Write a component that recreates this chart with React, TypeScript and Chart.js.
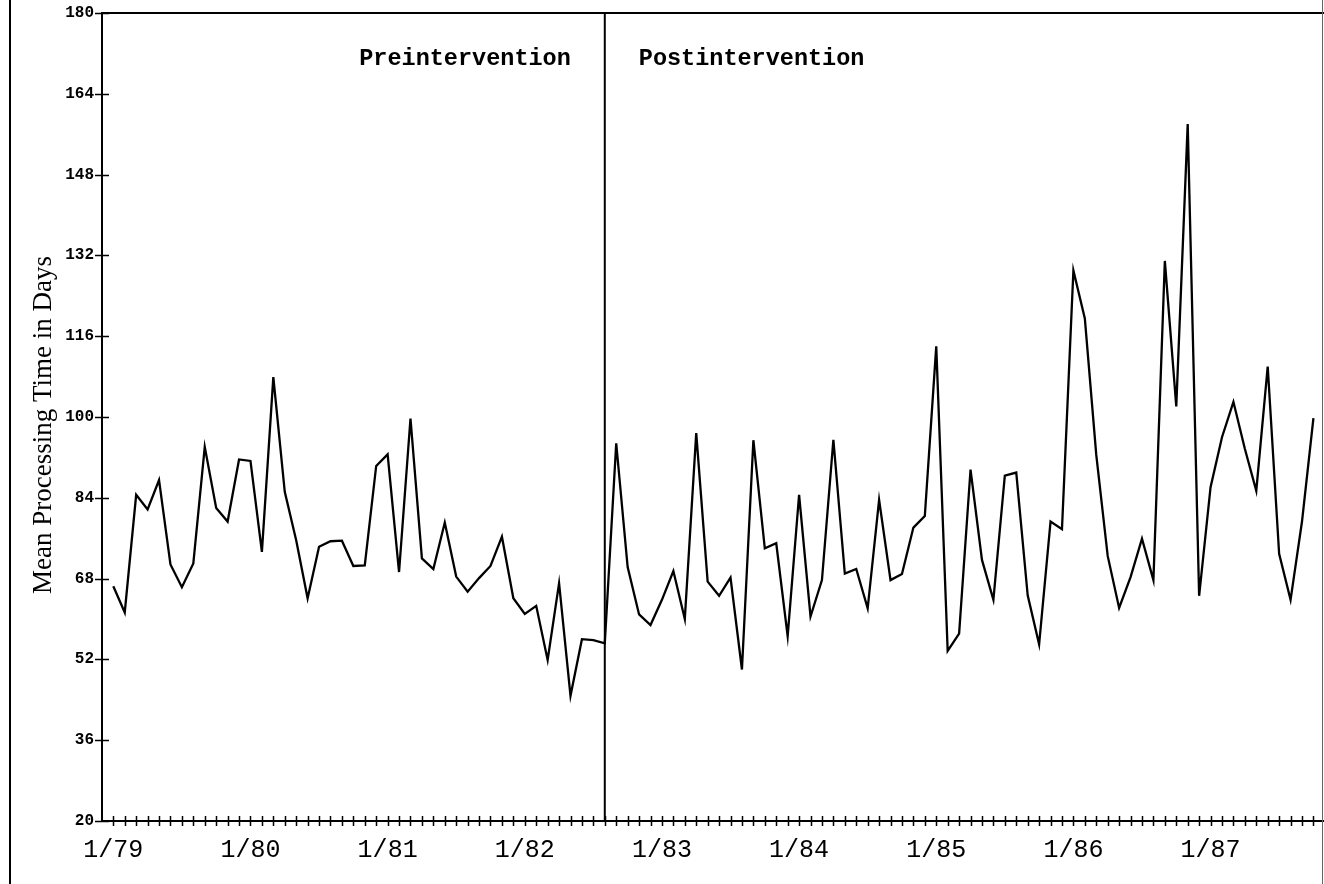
import React, { useEffect, useRef } from "react";
import { Chart, registerables } from "chart.js";

Chart.register(...registerables);

// Monthly mean processing time in days, 1/79 .. 10/87
const meanDays: number[] = [
  66.5, 61.3, 84.6, 81.7, 87.5, 70.8, 66.3, 71.0, 94.1, 82.0, 79.3, 91.6,
  91.3, 73.3, 107.9, 85.2, 75.6, 64.1, 74.3, 75.4, 75.5, 70.5, 70.6, 90.3,
  92.6, 69.3, 99.7, 72.0, 69.9, 79.1, 68.4, 65.4, 68.1, 70.5, 76.3, 64.1,
  61.0, 62.6, 51.9, 67.1, 44.8, 56.0, 55.8, 55.2, 94.8, 70.3, 60.9, 58.8,
  63.8, 69.5, 60.0, 96.8, 67.4, 64.6, 68.2, 50.0, 95.4, 74.0, 75.0, 56.6,
  84.6, 60.5, 67.7, 95.5, 69.0, 69.9, 62.1, 83.6, 67.7, 68.9, 78.1, 80.4,
  114.0, 53.7, 57.1, 89.6, 71.7, 63.8, 88.4, 89.0, 64.7, 55.0, 79.3, 77.8,
  129.0, 119.5, 92.5, 72.5, 62.2, 68.3, 75.9, 67.7, 130.9, 102.1, 158.0, 64.6,
  86.1, 96.0, 103.0, 93.7, 85.4, 110.0, 72.9, 63.8, 79.3, 99.8,
];

// January tick labels (every 12 months)
const yearLabels: string[] = ["1/79", "1/80", "1/81", "1/82", "1/83", "1/84", "1/85", "1/86", "1/87"];

const xMin = -0.99;
const xMax = 105.75;
const yTickMin = 20;
const yTickMax = 180;
const yTickStep = 16;

const interventionIndex = 43; // 8/82
const phaseLabels: string[] = ["Preintervention", "Postintervention"];
const yAxisTitle = "Mean Processing Time in Days";

const decorPlugin = {
  id: "decor",
  afterDraw(chart: any) {
    const { ctx, chartArea: a, scales } = chart;
    const x = scales.x;
    const y = scales.y;
    ctx.save();
    ctx.strokeStyle = "#000";
    ctx.lineWidth = 2;
    ctx.beginPath();
    ctx.moveTo(a.left, a.bottom);
    ctx.lineTo(a.left, a.top);
    ctx.lineTo(chart.width, a.top);
    ctx.moveTo(a.left, a.bottom);
    ctx.lineTo(chart.width, a.bottom);
    ctx.stroke();
    // right border (faint)
    ctx.lineWidth = 1;
    ctx.strokeStyle = "#666";
    ctx.beginPath();
    ctx.moveTo(a.right + 0.5, 0);
    ctx.lineTo(a.right + 0.5, chart.height);
    ctx.stroke();
    ctx.strokeStyle = "#000";
    // crossing tick marks
    ctx.lineWidth = 1.5;
    ctx.beginPath();
    x.ticks.forEach((t: any) => {
      const px = Math.round(x.getPixelForValue(t.value)) + 0.5;
      ctx.moveTo(px, a.bottom - 5);
      ctx.lineTo(px, a.bottom + 5);
    });
    y.ticks.forEach((t: any) => {
      const py = Math.round(y.getPixelForValue(t.value)) + 0.5;
      ctx.moveTo(a.left - 7, py);
      ctx.lineTo(a.left + 7, py);
    });
    ctx.stroke();
    // intervention line
    const ix = x.getPixelForValue(interventionIndex);
    ctx.lineWidth = 2;
    ctx.beginPath();
    ctx.moveTo(ix, a.top);
    ctx.lineTo(ix, a.bottom);
    ctx.stroke();
    // phase labels
    ctx.fillStyle = "#000";
    ctx.font = "bold 23.5px 'Liberation Mono', monospace";
    ctx.textBaseline = "alphabetic";
    ctx.textAlign = "right";
    ctx.fillText(phaseLabels[0], ix - 34, a.top + 52);
    ctx.textAlign = "left";
    ctx.fillText(phaseLabels[1], ix + 34, a.top + 52);
    // y axis title
    ctx.save();
    ctx.translate(44, (a.top + a.bottom) / 2 + 8);
    ctx.rotate(-Math.PI / 2);
    ctx.font = "27px 'Liberation Serif', serif";
    ctx.textAlign = "center";
    ctx.textBaseline = "middle";
    ctx.fillText(yAxisTitle, 0, 0);
    ctx.restore();
    ctx.restore();
  },
};

export default function App() {
  const canvasRef = useRef<HTMLCanvasElement | null>(null);

  useEffect(() => {
    const canvas = canvasRef.current;
    if (!canvas) return;
    const chart = new Chart(canvas, {
      type: "line",
      data: {
        datasets: [
          {
            data: meanDays.map((v, i) => ({ x: i, y: v })),
            borderColor: "#000",
            borderWidth: 2.3,
            pointRadius: 0,
            tension: 0,
            fill: false,
          },
        ],
      },
      options: {
        responsive: false,
        animation: false,
        devicePixelRatio: 1,
        layout: { padding: { left: 0, top: 13, right: 2, bottom: 0 } },
        plugins: { legend: { display: false }, tooltip: { enabled: false }, title: { display: false } },
        scales: {
          x: {
            type: "linear",
            min: xMin,
            max: xMax,
            grid: { display: false, drawTicks: false },
            border: { display: false },
            afterFit: (s: any) => {
              s.height = 63;
              s.paddingLeft = 0;
              s.paddingRight = 0;
            },
            ticks: {
              stepSize: 1,
              includeBounds: false,
              autoSkip: false,
              maxRotation: 0,
              minRotation: 0,
              padding: 14,
              color: "#000",
              font: { family: "'Liberation Mono', monospace", size: 25 },
              callback: (value: any) => {
                const v = Number(value);
                if (Number.isInteger(v) && v % 12 === 0 && v / 12 < yearLabels.length) return yearLabels[v / 12];
                return "";
              },
            },
          },
          y: {
            type: "linear",
            min: yTickMin,
            max: yTickMax,
            grid: { display: false, drawTicks: false },
            border: { display: false },
            afterFit: (s: any) => {
              s.width = 102;
              s.paddingTop = 0;
              s.paddingBottom = 0;
            },
            ticks: {
              stepSize: yTickStep,
              padding: 8,
              color: "#000",
              font: { family: "'Liberation Mono', monospace", size: 16, weight: "bold" },
            },
            title: { display: false },
          },
        },
      },
      plugins: [decorPlugin],
    });
    return () => chart.destroy();
  }, []);

  return (
    <div style={{ position: "absolute", left: 0, top: 0, width: 1324, height: 884, background: "#fff", overflow: "hidden" }}>
      <div style={{ position: "absolute", left: 9, top: 0, width: 2, height: 884, background: "#000" }} />
      <canvas ref={canvasRef} width={1324} height={884} style={{ position: "absolute", left: 0, top: 0, width: 1324, height: 884 }} />
    </div>
  );
}
